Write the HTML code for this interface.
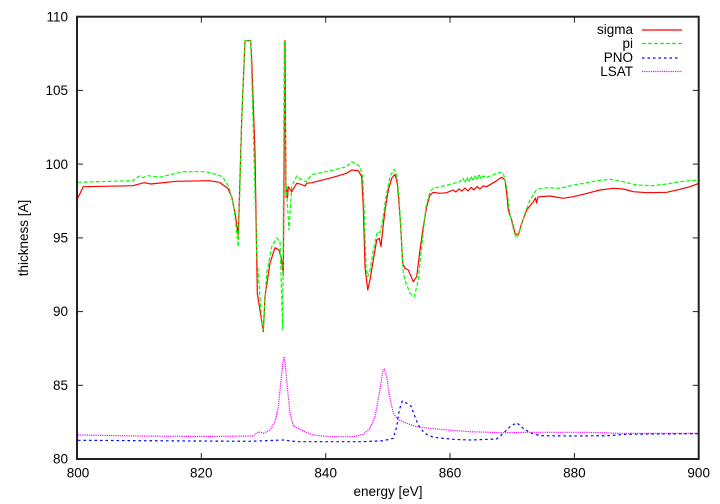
<!DOCTYPE html>
<html>
<head>
<meta charset="utf-8">
<style>
html,body{margin:0;padding:0;background:#fff;}
svg{display:block;}
text{font-family:"Liberation Sans","DejaVu Sans",sans-serif;font-size:13.5px;fill:#000;}
</style>
</head>
<body>
<svg width="720" height="504" viewBox="0 0 720 504" xmlns="http://www.w3.org/2000/svg">
<rect x="0" y="0" width="720" height="504" fill="#fff"/>
<defs>
<clipPath id="pa"><rect x="77" y="16.7" width="621.7" height="442.3"/></clipPath>
</defs>

<g stroke="#222" stroke-width="1">
<line x1="77" y1="90.4" x2="83" y2="90.4"/><line x1="698.7" y1="90.4" x2="692.7" y2="90.4"/>
<line x1="77" y1="164.1" x2="83" y2="164.1"/><line x1="698.7" y1="164.1" x2="692.7" y2="164.1"/>
<line x1="77" y1="237.9" x2="83" y2="237.9"/><line x1="698.7" y1="237.9" x2="692.7" y2="237.9"/>
<line x1="77" y1="311.6" x2="83" y2="311.6"/><line x1="698.7" y1="311.6" x2="692.7" y2="311.6"/>
<line x1="77" y1="385.3" x2="83" y2="385.3"/><line x1="698.7" y1="385.3" x2="692.7" y2="385.3"/>
<line x1="201.3" y1="459" x2="201.3" y2="453"/><line x1="201.3" y1="16.7" x2="201.3" y2="22.7"/>
<line x1="325.7" y1="459" x2="325.7" y2="453"/><line x1="325.7" y1="16.7" x2="325.7" y2="22.7"/>
<line x1="450" y1="459" x2="450" y2="453"/><line x1="450" y1="16.7" x2="450" y2="22.7"/>
<line x1="574.4" y1="459" x2="574.4" y2="453"/><line x1="574.4" y1="16.7" x2="574.4" y2="22.7"/>
</g>

<g text-anchor="end">
<text x="68" y="21.5">110</text>
<text x="68" y="95">105</text>
<text x="68" y="168.8">100</text>
<text x="68" y="242.5">95</text>
<text x="68" y="316.2">90</text>
<text x="68" y="390">85</text>
<text x="68" y="463.6">80</text>
</g>
<g text-anchor="middle">
<text x="78" y="477.5">800</text>
<text x="201.3" y="477.5">820</text>
<text x="325.7" y="477.5">840</text>
<text x="450" y="477.5">860</text>
<text x="574.4" y="477.5">880</text>
<text x="698.7" y="477.5">900</text>
</g>

<text x="388" y="496" text-anchor="middle">energy [eV]</text>
<text x="0" y="0" text-anchor="middle" transform="translate(28,238) rotate(-90)">thickness [A]</text>

<g clip-path="url(#pa)" fill="none" stroke-linejoin="round">
<polyline stroke="#ff00ff" stroke-width="1.2" stroke-dasharray="1.2,1" points="78,435 140,436 200,436.5 253.3,436 258.3,431.7 263.3,433.3 270,430 275,421.7 278.3,406.7 280.7,383.3 282.7,363.3 284,356.7 285.3,365 287.3,386.7 290,413.3 293.3,426 298.3,428.3 305,431.7 313.3,435 330,436.7 353.3,436.7 363.3,434.3 370,428.3 375,416.7 379.3,393.3 382.7,371.7 384.3,369 386.7,376.7 389.3,395 393.3,413.3 398.3,420 406.7,423.3 416.7,426.7 430,428.3 440,429.3 470,431.7 503.3,432.7 530,432.3 586.7,432.3 620,433.3 699,433.3"/>
<polyline stroke="#0000ff" stroke-width="1.2" stroke-dasharray="2.5,3" points="78,440.3 250,441.3 283.3,440 296.7,441.7 363.3,441.7 383.3,440.7 393.3,438.3 396.7,426.7 399.3,410 402.3,401 406.7,403.3 411,406 414.3,415 418.3,425 423.3,431.7 427,434.5 433.3,437.3 453.3,439.3 470,440 496.7,439 503.3,433.3 510,426.7 516.7,422.7 523.3,428.3 530,432.7 540,435.7 570,436 606.7,435.7 626.7,434.3 653.3,434 699,433.7"/>
<polyline stroke="#ff0000" stroke-width="1.2" points="77.7,198.3 83.3,186.7 132.7,185.7 144.3,182.7 151,184 176,181.3 209.3,180.7 219.3,182.3 227.7,188.3 231.7,196.7 235,213 238.3,235 241.7,120 245,40.7 250.7,40.7 251.7,60 255,153 257.3,293 263.3,331.7 265,296.7 270,263 275,247.7 279,250 281.7,260 283.3,275 285,40.7 286,197 286.8,190 287.5,198 288.3,186.7 291.7,191.7 296.7,183.3 300,184 305,186 306.7,183.3 311.7,182.7 320,180.7 333,177.3 346.7,173.3 351.7,170 358.3,170.7 361.7,176.7 363.3,206.7 365,266.7 367.7,290 370,280 373.3,260 376.7,240 379.3,238.3 381,246.7 382.7,230 385,210 388.3,190 391.7,178.3 395,174.3 397.3,183.3 399,203.3 400.7,226.7 402.7,263.3 405,268.3 408.3,270 413.3,281.7 416.7,276.7 420,250 423.3,226.7 426.7,206.7 430,195 433.3,192.3 440,193.3 446.7,192.7 453,190 456,192 459,189 462,191 465,188 468,191 471,187.5 474,190 477,186.5 480,189 483,186 486.7,186.7 495,181.7 501.7,177.3 505,180 506.7,193.3 508.3,210 511.7,220 515,233.3 518.3,235 521.7,223.3 526.7,210 533.3,201.7 535.5,198 536.5,203 538,197 540,196.7 550,196 563.3,198.3 573.3,196.7 583.3,194.3 600,190 613.3,188.3 623.3,189 633.3,191.7 646.7,192.7 666.7,192.3 680,189.3 690,186.7 699,183.3"/>
<polyline stroke="#00ff00" stroke-width="1.2" stroke-dasharray="4,2" points="77.7,182.3 109.3,181.3 132.7,180.7 139.3,176 142.7,177.7 147.7,175.7 159.3,177.3 169.3,175 182.7,171.7 206,171.7 216,174.3 222.7,176.7 228.7,186.7 233.3,203.3 235,216.7 238.3,246.7 241.7,120 245,40.7 250.7,40.7 253,120 256.7,253 261.7,320 263.3,330 266.7,273 271.7,246.7 276.7,238 280,241.7 282.7,330 284.3,40.7 286,196.7 286.6,185 287.2,200 289,230 291.7,186.7 296.7,176 301.7,180 306.7,181.7 310,176.7 313.3,174.3 333.3,170 346.7,166.7 351.7,161.7 356.7,164 360,166.7 362.7,176.7 364,206.7 366,266.7 367.7,276.7 370,270 373.3,250 377.3,231.7 380,232.7 382.7,220 386,196.7 390,176.7 394,169.3 396.7,173.3 399,196.7 401.7,243.3 403.3,273.3 406,283.3 410,293.3 414.3,296.7 418.3,280 421.7,246.7 426,206.7 430,191.7 433.3,188.3 443.3,186 460,181.7 463,178 465,183 467,177 469,182 471,176 473,181 475,175 477,180 479,174 481,179 483,176 486.7,177.3 493.3,175 500,172.3 503.3,173.3 506.7,186.7 509.3,210 512.7,226.7 516,237.7 520,230 525,213.3 530,200 536.7,189.3 546.7,187.7 560,188.3 573.3,185 583.3,183.3 596.7,180.7 610,179.3 623.3,181.7 636.7,185 653.3,185.7 666.7,184 680,181.7 699,180"/>
</g>

<rect x="77" y="16.7" width="621.7" height="442.3" fill="none" stroke="#222" stroke-width="2"/>

<g text-anchor="end">
<text x="633" y="34">sigma</text>
<text x="633" y="48">pi</text>
<text x="633" y="62">PNO</text>
<text x="633" y="76">LSAT</text>
</g>
<g fill="none" stroke-width="1.2">
<line x1="642" y1="30" x2="682" y2="30" stroke="#ff0000"/>
<line x1="642" y1="43.5" x2="682" y2="43.5" stroke="#00ff00" stroke-dasharray="4,2"/>
<line x1="642" y1="58" x2="680" y2="58" stroke="#0000ff" stroke-dasharray="2.5,3"/>
<line x1="642" y1="71.5" x2="682" y2="71.5" stroke="#ff00ff" stroke-dasharray="1.2,1"/>
</g>
</svg>
</body>
</html>
